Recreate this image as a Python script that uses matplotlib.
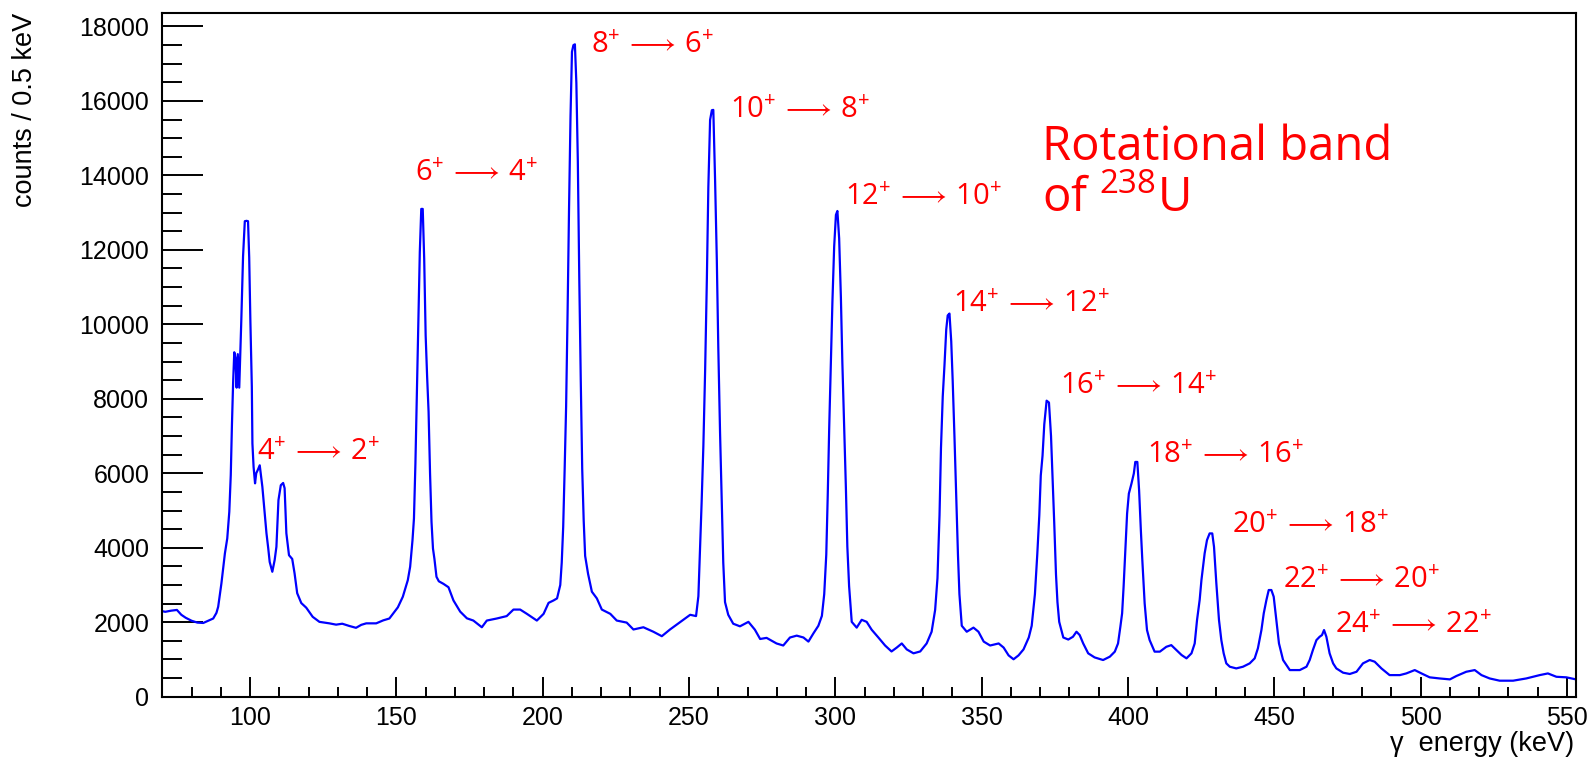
import matplotlib
matplotlib.use("Agg")
import matplotlib.pyplot as plt
from matplotlib.ticker import MultipleLocator

plt.rcParams["mathtext.fontset"] = "custom"
plt.rcParams["mathtext.rm"] = "Open Sans"
plt.rcParams["mathtext.it"] = "Open Sans:italic"
plt.rcParams["mathtext.bf"] = "Open Sans:bold"
plt.rcParams["mathtext.fallback"] = "stix"

# ---- data ----
energy_kev = [
    69.8, 71, 73, 75, 76.5, 78, 80, 82, 84, 86, 87.4, 88.5, 89.1, 90.2, 91.4, 92.2, 92.9,
    93.4, 93.8, 94.2, 94.6, 95.0, 95.4, 95.8, 96.3, 97.0, 97.6, 98.2, 98.8, 99.3, 99.7,
    100.1, 100.6, 100.8, 101.2, 101.7, 102.1, 102.7, 103.3, 104.2, 105.0, 105.6, 106.2,
    106.7, 107.6, 108.4, 109.0, 109.7, 110.5, 111.3, 111.8, 112.4, 113.3, 114.4, 115.2,
    116.1, 117.5, 119.2, 121.4, 123.7, 127.1, 129.4, 131.5, 133.9, 136.2, 138, 139.7,
    143.1, 145.5, 147.6, 150.5, 152.2, 153.9, 154.7, 155.5, 156.0, 156.5, 157.0, 157.5,
    158.0, 158.5, 159.0, 159.5, 160.0, 160.5, 161.0, 161.5, 162.0, 162.5, 163.0, 163.7,
    164.5, 166.1, 167.8, 169.5, 171.8, 174.1, 176.3, 179.2, 180.9, 184.3, 187.7, 190.0,
    192.3, 194.6, 198.0, 200.3, 202.0, 203.7, 204.9, 206.0, 206.5, 207.0, 207.5, 208.0,
    208.5, 209.0, 209.5, 210.0, 210.5, 211.0, 211.5, 212.0, 212.5, 213.0, 213.5, 214.0,
    214.5, 215.5, 216.8, 218.5, 220.2, 223.1, 225.3, 228.7, 231.0, 234.4, 237.8, 240.7,
    243.5, 246.9, 250.4, 252.4, 253.2, 253.7, 254.3, 254.9, 255.5, 256.1, 256.6, 257.2,
    257.8, 258.3, 258.9, 259.5, 260.0, 260.6, 261.2, 261.7, 262.3, 263.4, 265.1, 267.4,
    270.3, 272.5, 274.3, 276.5, 279.9, 282.2, 284.5, 286.8, 289.1, 290.8, 292.5, 294.2,
    295.4, 296.2, 296.9, 297.4, 297.9, 298.5, 299.0, 299.6, 300.2, 300.7, 301.3, 301.9,
    302.4, 303.0, 303.6, 304.1, 304.7, 305.6, 307.3, 309.0, 310.7, 312.4, 314.7, 317.0,
    319.2, 321.0, 322.7, 324.4, 326.7, 329.0, 331.2, 332.9, 334.1, 334.9, 335.6, 336.1,
    336.7, 337.3, 337.9, 338.4, 339.0, 339.6, 340.1, 340.7, 341.3, 341.9, 342.4, 343.2,
    344.9, 347.2, 348.9, 350.7, 352.9, 355.8, 357.5, 359.2, 360.9, 362.6, 364.3, 366.1,
    367.1, 368.2, 369.0, 369.7, 370.2, 370.8, 371.4, 372.2, 373.0, 373.7, 374.2, 374.8,
    375.4, 375.9, 376.5, 377.9, 379.6, 381.2, 382.4, 383.5, 384.7, 386.4, 388.6, 391.5,
    393.8, 395.5, 396.6, 397.4, 398.0, 398.5, 399.1, 399.7, 400.3, 401.2, 402.0, 402.5,
    403.2, 403.8, 404.4, 404.9, 405.7, 406.5, 407.4, 409.1, 410.9, 413.1, 414.8, 416.5,
    418.3, 420.0, 421.7, 422.8, 423.6, 424.5, 425.1, 426.2, 427.0, 427.9, 428.8, 429.4,
    430.2, 431.1, 431.9, 432.7, 433.6, 434.8, 437.0, 439.3, 441.6, 443.3, 444.4, 445.6,
    446.4, 447.3, 448.1, 449.0, 449.8, 450.7, 451.6, 453.0, 455.3, 458.7, 461.0, 462.1,
    463.2, 464.4, 465.5, 466.3, 467.0, 467.8, 468.9, 470.1, 471.2, 473.5, 475.8, 478.1,
    480.3, 482.6, 484.3, 486.6, 489.4, 492.9, 495.1, 498.0, 500.3, 503.1, 506.5, 510.0,
    512.2, 515.6, 518.5, 520.8, 523.6, 527.0, 531.6, 536.1, 540.7, 543.5, 546.4, 549.8,
    553.1,
]
counts = [
    2300, 2280, 2310, 2330, 2200, 2120, 2040, 1990, 1980, 2050, 2100, 2250, 2415, 3040,
    3850, 4250, 4965, 5950, 7290, 8425, 9250, 9100, 8300, 9200, 8300, 10100, 11825,
    12770, 12780, 12770, 11800, 10100, 8320, 6800, 6170, 5730, 6000, 6100, 6215, 5635,
    4925, 4390, 3990, 3620, 3355, 3670, 4025, 5280, 5680, 5740, 5600, 4390, 3800, 3700,
    3315, 2780, 2515, 2390, 2145, 2010, 1970, 1935, 1960, 1900, 1850, 1930, 1970, 1970,
    2050, 2100, 2400, 2685, 3130, 3490, 4200, 4785, 6260, 8140, 10060, 11940, 13100,
    13100, 11760, 9700, 8600, 7650, 6000, 4695, 3980, 3700, 3220, 3100, 3030, 2940, 2585,
    2285, 2105, 2045, 1865, 2045, 2100, 2165, 2340, 2340, 2225, 2045, 2225, 2520, 2585,
    2640, 3000, 3600, 4560, 6115, 7800, 10310, 13120, 15580, 17320, 17500, 17520, 16480,
    14380, 11210, 8510, 6115, 4740, 3780, 3300, 2820, 2640, 2340, 2225, 2045, 1990, 1805,
    1865, 1745, 1625, 1805, 2000, 2200, 2165, 2700, 3840, 5200, 6730, 8750, 11240, 13680,
    15490, 15750, 15760, 13890, 11715, 9385, 7100, 5200, 3600, 2540, 2200, 1960, 1890,
    2010, 1800, 1550, 1580, 1430, 1375, 1590, 1640, 1590, 1480, 1700, 1905, 2170, 2755,
    3815, 5405, 7210, 9120, 10605, 12090, 12940, 13045, 12310, 10710, 8960, 7315, 5620,
    4030, 2970, 2010, 1855, 2065, 2010, 1800, 1590, 1375, 1215, 1320, 1430, 1270, 1165,
    1215, 1430, 1745, 2330, 3185, 4875, 6680, 8060, 8910, 9865, 10240, 10290, 9545, 8485,
    7000, 5405, 3815, 2755, 1905, 1745, 1855, 1745, 1480, 1375, 1430, 1320, 1110, 1005,
    1110, 1270, 1590, 1905, 2755, 3815, 4875, 5940, 6470, 7315, 7950, 7900, 7000, 5940,
    4665, 3285, 2540, 2010, 1590, 1535, 1610, 1745, 1655, 1430, 1165, 1055, 985, 1075,
    1210, 1430, 1880, 2240, 2950, 3935, 4920, 5455, 5725, 5995, 6305, 6305, 5545, 4470,
    3670, 2505, 1790, 1520, 1210, 1210, 1340, 1385, 1255, 1120, 1030, 1165, 1430, 2060,
    2600, 3130, 3850, 4205, 4385, 4385, 4025, 3040, 2060, 1520, 1165, 895, 805, 760, 805,
    895, 1030, 1300, 1790, 2240, 2595, 2865, 2865, 2685, 2060, 1430, 985, 715, 715, 805,
    985, 1255, 1520, 1610, 1655, 1790, 1610, 1165, 895, 760, 645, 610, 670, 895, 985, 940,
    760, 580, 580, 625, 715, 625, 520, 490, 465, 555, 670, 715, 580, 490, 430, 430, 490,
    580, 625, 535, 520, 465,
]

spin_from = ["4", "6", "8", "10", "12", "14", "16", "18", "20", "22", "24"]
spin_to = ["2", "4", "6", "8", "10", "12", "14", "16", "18", "20", "22"]
label_energy = [102.3, 156.3, 216.4, 264.0, 303.2, 340.2, 376.7, 406.5, 435.6, 453.0, 470.9]
label_counts = [6350, 13845, 17280, 15540, 13205, 10340, 8140, 6280, 4400, 2925, 1700]

x_range = (69.8, 553.1)
y_range = (0, 18375)

# ---- figure ----
W, H = 1594, 760
fig = plt.figure(figsize=(W / 100, H / 100), dpi=100)
ax = fig.add_axes([161.7 / W, 1 - 696.7 / H, (1576 - 161.7) / W, (696.7 - 12.5) / H])

ax.plot(energy_kev, counts, color="#0000ff", lw=1.6)

ax.set_xlim(*x_range)
ax.set_ylim(*y_range)
ax.xaxis.set_major_locator(MultipleLocator(50))
ax.xaxis.set_minor_locator(MultipleLocator(10))
ax.yaxis.set_major_locator(MultipleLocator(2000))
ax.yaxis.set_minor_locator(MultipleLocator(500))

tick_font = ["Liberation Sans", "DejaVu Sans"]
ax.tick_params(axis="x", which="major", direction="in", length=14.5, width=1.4,
               pad=7, labelsize=18, top=False)
ax.tick_params(axis="x", which="minor", direction="in", length=7.2, width=1.4, top=False)
ax.tick_params(axis="y", which="major", direction="in", length=29.5, width=1.4,
               pad=9, labelsize=18, right=False)
ax.tick_params(axis="y", which="minor", direction="in", length=14.5, width=1.4, right=False)
for lab in ax.get_xticklabels() + ax.get_yticklabels():
    lab.set_fontfamily(tick_font)
for sp in ax.spines.values():
    sp.set_linewidth(1.5)

fig.text(25 / W, 1 - 13 / H, "counts / 0.5 keV", rotation=90, ha="center", va="top",
         fontsize=19.5, family=tick_font)
fig.text(1574 / W, 1 - 751 / H, "γ  energy (keV)", ha="right", va="baseline",
         fontsize=19.5, family=tick_font)

ann_font = ["Open Sans", "DejaVu Sans"]
for a, b, ex, cy in zip(spin_from, spin_to, label_energy, label_counts):
    txt = a + r"$^{+}\,\longrightarrow\,$" + b + r"$^{+}$"
    ax.text(ex, cy, txt, color="#ff0000", fontsize=21, family=ann_font,
            ha="left", va="baseline")

ax.text(370.5, 14420, "Rotational band", color="#ff0000", fontsize=34,
        family=ann_font, ha="left", va="baseline")
ax.text(370.5, 13015, r"of $^{238}$U", color="#ff0000", fontsize=34,
        family=ann_font, ha="left", va="baseline")

fig.savefig("out.png", dpi=100, facecolor="white")
